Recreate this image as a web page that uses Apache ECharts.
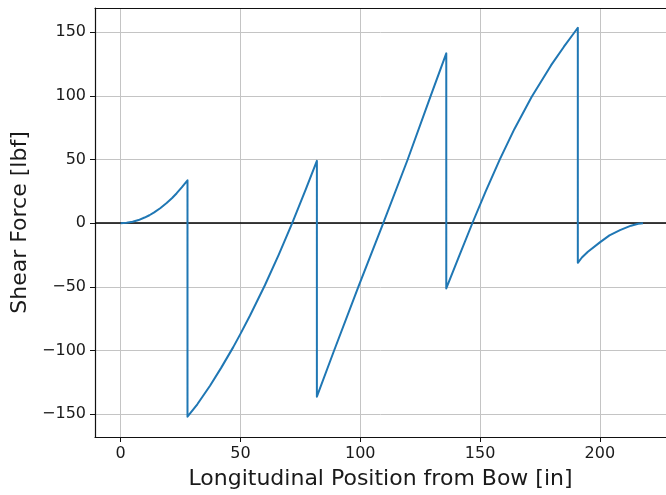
<!DOCTYPE html>
<html>
<head>
<meta charset="utf-8">
<script src="https://cdn.jsdelivr.net/npm/echarts@6/dist/echarts.min.js"></script>
<style>
html,body{margin:0;padding:0;background:#fff;}
#chart{width:666px;height:495px;}
</style>
</head>
<body>
<div id="chart"></div>
<script>
// Position from bow [in]
var positions = [0, 2.5, 5, 7.5, 10, 12, 14, 16.5, 19.2, 21.5, 23.4, 25.5, 27.9,
  27.9, 32, 37.3, 42, 47, 50, 54, 60.2, 66, 71.6, 77.3, 81.9,
  81.9, 88.7, 99.2, 109.6, 119.8, 129.4, 135.9,
  135.9, 141.3, 146.9, 152.3, 158.3, 164.3, 171.5, 179.6, 185, 188.9, 190.8,
  190.8, 192.5, 195, 200, 204, 208.4, 213, 216, 218];
// Shear force [lbf]
var shear = [0, 0.27, 1.1, 2.4, 4.4, 6.2, 8.5, 11.7, 15.8, 19.7, 23.5, 28.1, 33.6,
  -152, -142.3, -127.7, -113.5, -97.4, -87, -72.6, -48.8, -24.7, 0, 26.7, 48.9,
  -136.3, -102, -50, 0, 50, 100, 133.4,
  -51.3, -25.8, 0.5, 24.8, 50.3, 73.8, 99.1, 123.9, 138.6, 148.6, 153.5,
  -31.2, -27, -22.5, -15.1, -9.6, -5.5, -2.0, -0.5, 0];
var xTicks = [0, 50, 100, 150, 200];
var yTicks = [-150, -100, -50, 0, 50, 100, 150];

var pts = positions.map(function (x, i) { return [x, shear[i]]; });
var font = 'DejaVu Sans';
function fmt(v) { return String(v).replace('-', '\u2212'); }
var chart = echarts.init(document.getElementById('chart'), null, {renderer: 'canvas'});
chart.setOption({
  animation: false,
  backgroundColor: '#ffffff',
  grid: {left: 95, top: 8, right: 0, bottom: 58, show: false, containLabel: false},
  xAxis: [{
    type: 'value', min: -10.7, max: 227.6,
    name: 'Longitudinal Position from Bow [in]', nameLocation: 'middle', nameGap: 31,
    nameTextStyle: {fontFamily: font, fontSize: 22, color: '#1a1a1a'},
    axisLine: {show: true, onZero: false, lineStyle: {color: '#111', width: 1.2}},
    axisTick: {show: true, length: 5, inside: false, lineStyle: {color: '#111'}, customValues: xTicks},
    axisLabel: {fontFamily: font, fontSize: 16, color: '#1a1a1a', margin: 9, customValues: xTicks, formatter: fmt},
    splitLine: {show: true, lineStyle: {color: '#c4c4c4', width: 1}}
  }, {
    type: 'value', position: 'top', min: -10.7, max: 227.6,
    axisLine: {show: true, onZero: false, lineStyle: {color: '#111', width: 1.2}},
    axisTick: {show: false}, axisLabel: {show: false}, splitLine: {show: false}
  }],
  yAxis: {
    type: 'value', min: -168, max: 169,
    name: 'Shear Force [lbf]', nameLocation: 'middle', nameGap: 63,
    nameTextStyle: {fontFamily: font, fontSize: 22, color: '#1a1a1a'},
    axisLine: {show: true, onZero: false, lineStyle: {color: '#111', width: 1.2}},
    axisTick: {show: true, length: 5, inside: false, lineStyle: {color: '#111'}, customValues: yTicks},
    axisLabel: {fontFamily: font, fontSize: 16, color: '#1a1a1a', margin: 9, customValues: yTicks, formatter: fmt},
    splitLine: {show: true, lineStyle: {color: '#c4c4c4', width: 1}}
  },
  series: [{
    type: 'line', data: pts, xAxisIndex: 0, showSymbol: false, symbol: 'none', smooth: false,
    lineStyle: {color: '#1f77b4', width: 2, join: 'round'},
    z: 3,
    markLine: {
      silent: true, symbol: 'none', label: {show: false},
      lineStyle: {color: '#000', width: 1.5, type: 'solid'},
      data: [{yAxis: 0}], z: 2
    }
  }]
});
</script>
</body>
</html>
